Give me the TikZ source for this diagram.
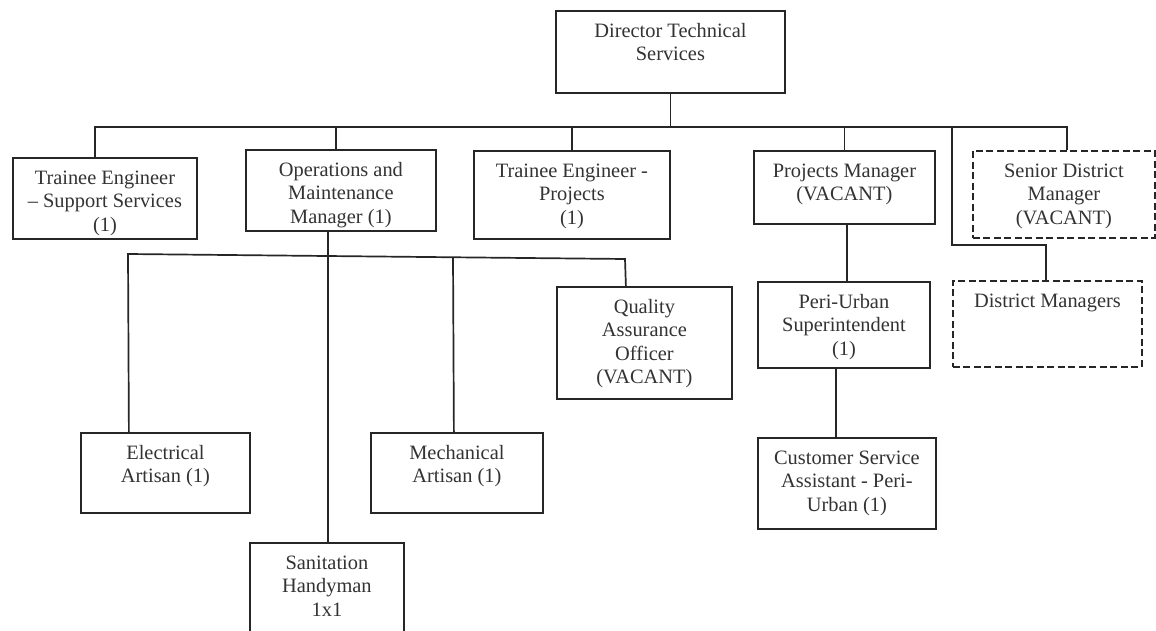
\documentclass[tikz,border=0pt]{standalone}
\usepackage{fontspec}
\setmainfont{Liberation Serif}
\begin{document}
\tikzset{
  unit/.style={draw=black!85, line width=1.8pt, inner sep=0pt, fill=white},
  vacant/.style={unit, dashed, dash pattern=on 7pt off 3.5pt},
  lbl/.style={anchor=north, inner sep=0pt, align=center, text=black!80,
    font=\rmfamily\fontsize{20.4}{23.5}\selectfont},
  link/.style={draw=black!85, line width=1.7pt}
}
% #1 name, #2 style, #3/#4 top-left corner, #5 width, #6 height, #7 title
\newcommand\orgunit[7]{%
  \node[#2, minimum width=#5pt, minimum height=#6pt, anchor=north west] (#1) at (#3,#4) {};
  \node[lbl] at ([yshift=-10.5pt]#1.north) {\strut #7};
}
\begin{tikzpicture}[x=1pt,y=-1pt]
\useasboundingbox (0,0) rectangle (1156,631);
\clip (0,0) rectangle (1156,631);
\fill[white] (0,0) rectangle (1156,631);

% junction points of the reporting lines
\coordinate (bus) at (669.5,127);
\coordinate (dmtap) at (952,127);
\coordinate (dmbend) at (952,245);
\coordinate (lbusL) at (128,254);
\coordinate (lbusM) at (453,257.3);
\coordinate (lbusR) at (625,259);

% director level
\orgunit{dir}{unit}{555}{10}{229}{82}{Director Technical\\Services}
% second level
\orgunit{tess}{unit}{12}{157}{184}{81}{Trainee Engineer\\– Support Services\\(1)}
\orgunit{om}{unit}{245}{149}{190}{81}{Operations and\\Maintenance\\Manager (1)}
\orgunit{tep}{unit}{473}{150}{196}{88}{Trainee Engineer -\\Projects\\(1)}
\orgunit{pm}{unit}{753}{150}{181}{73}{Projects Manager\\(VACANT)}
\orgunit{sdm}{vacant}{972}{150}{182}{87}{Senior District\\Manager\\(VACANT)}
\orgunit{dm}{vacant}{952}{280}{189}{86}{District Managers}
% projects branch
\orgunit{pus}{unit}{757}{281}{172}{86}{Peri-Urban\\Superintendent\\(1)}
\orgunit{csa}{unit}{757}{437}{178}{91}{Customer Service\\Assistant - Peri-\\Urban (1)}
% operations and maintenance branch
\orgunit{qa}{unit}{556}{286}{175}{112}{Quality\\Assurance\\Officer\\(VACANT)}
\orgunit{ea}{unit}{80}{432}{169}{80}{Electrical\\Artisan (1)}
\orgunit{ma}{unit}{370}{432}{172}{80}{Mechanical\\Artisan (1)}
\orgunit{sh}{unit}{249}{542}{154}{100}{Sanitation\\Handyman\\1x1}

% connectors
\draw[link] (dir.south) -- (dir.south |- bus);
\draw[link] ([xshift=-10pt]tess.north) |- (bus) -| ([xshift=3pt]sdm.north);
\draw[link] ([xshift=-5pt]om.north) -- ([xshift=-5pt]om.north |- bus);
\draw[link] (tep.north) -- (tep.north |- bus);
\draw[link] (pm.north) -- (pm.north |- bus);
\draw[link] (dmtap) -- (dmbend) -| ([xshift=-1.5pt]dm.north);
\draw[link] ([xshift=2.5pt]pm.south) -- ([xshift=2.5pt]pm.south |- pus.north);
\draw[link] ([xshift=-8pt]pus.south) -- ([xshift=-8pt]pus.south |- csa.north);
\draw[link] ([xshift=-13pt]om.south) -- ([xshift=-13pt]om.south |- sh.north);
\draw[link] ([xshift=-36.5pt]ea.north) -- (lbusL) -- (lbusR) -- ([xshift=-18.5pt]qa.north);
\draw[link] ([xshift=-3pt]ma.north) -- (lbusM);
\end{tikzpicture}
\end{document}
